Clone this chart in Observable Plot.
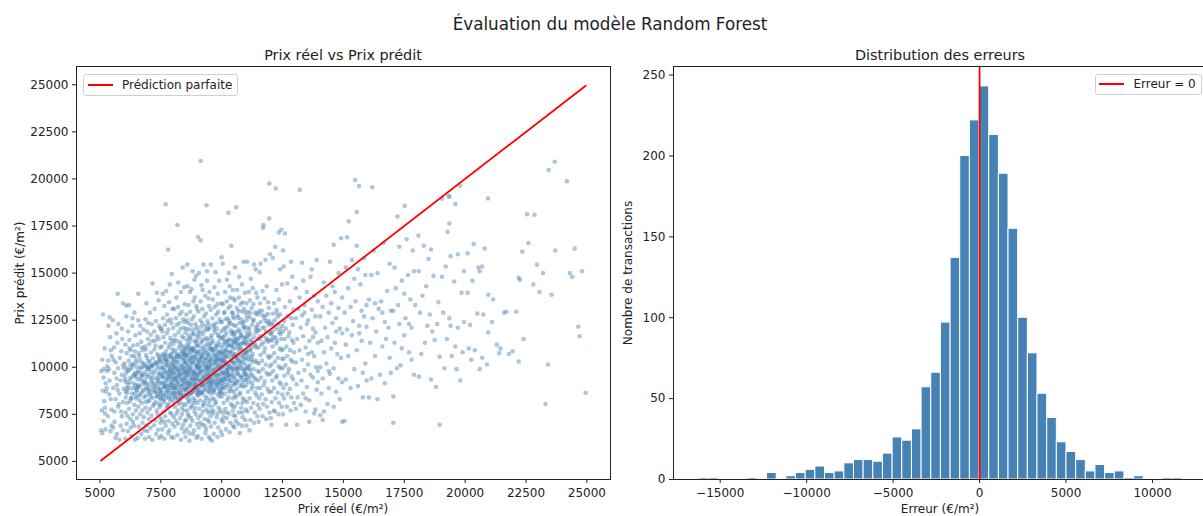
<!DOCTYPE html>
<html><head><meta charset="utf-8">
<script src="https://cdn.jsdelivr.net/npm/d3@7"></script>
<script src="https://cdn.jsdelivr.net/npm/@observablehq/plot@0.6"></script>
<style>
html,body{margin:0;padding:0;background:#fff;}
body{width:1203px;height:516px;overflow:hidden;position:relative;font-family:"DejaVu Sans",sans-serif;color:#222;}
.t{position:absolute;white-space:nowrap;line-height:1;}
.c{transform:translateX(-50%);}
.r{transform:translate(-50%,-50%) rotate(-90deg);}
.svgwrap{position:absolute;top:0;}
.leg{position:absolute;box-sizing:border-box;border:1px solid #cfcfcf;border-radius:3px;background:rgba(255,255,255,0.85);}
.leg .ln{position:absolute;height:2px;background:#ff0000;}
.leg .lt{position:absolute;font-size:12px;line-height:1;white-space:nowrap;}
</style></head><body>
<script>
const supTitle = "Évaluation du modèle Random Forest";
const titleScatter = "Prix réel vs Prix prédit";
const titleHist = "Distribution des erreurs";
const xLabelScatter = "Prix réel (€/m²)";
const yLabelScatter = "Prix prédit (€/m²)";
const xLabelHist = "Erreur (€/m²)";
const yLabelHist = "Nombre de transactions";
const legendScatter = "Prédiction parfaite";
const legendHist = "Erreur = 0";

const prixTicks = [5000, 7500, 10000, 12500, 15000, 17500, 20000, 22500, 25000];
const erreurTicks = [-15000, -10000, -5000, 0, 5000, 10000];
const countTicks = [0, 50, 100, 150, 200, 250];

// histogram of errors: bin edges (€/m²) and counts
const binEdges = [-16200,-15641,-15083,-14524,-13966,-13407,-12848,-12290,-11731,-11173,-10614,-10055,-9497,-8938,-8380,-7821,-7262,-6704,-6145,-5587,-5028,-4469,-3911,-3352,-2794,-2235,-1676,-1118,-559,0,558,1117,1675,2234,2792,3351,3910,4468,5027,5585,6144,6703,7261,7820,8378,8937,9496,10054,10613,11171,11730];
const binCounts = [1,1,0,0,0,1,0,4,0,2,4,6,8,4,5,10,12,12,11,16,26,24,31,57,66,97,137,200,222,243,213,189,155,100,78,53,38,23,17,12,5,9,4,5,1,2,0,0,1,1];

// [prix réel, prix prédit] (€/m²) — whole cloud
const transactions = [
[5050,6650],[5100,6500],[5150,7150],[5080,7700],[5200,7850],[5120,8750],[5250,8700],[5060,9800],[5300,9800],[5150,9450],[5400,9300],[5100,10400],[5350,10350],[5200,11000],[5450,10900],[5130,12800],[5400,12650],[5280,8900],[5450,8300],[5330,7400],[5480,6900],[5230,6700],[5370,9900],[5420,11600],[5180,8200],[5470,7750],[5300,10050],[5240,9150],[5390,8550],[5490,10600],[5160,9900],[5440,6600],[5350,12200],[5210,7550],
[5550,6800],[5600,7100],[5700,6450],[5850,6900],[5950,6650],[5600,7650],[5750,7900],[5900,7400],[5650,8300],[5800,8600],[5950,8150],[5550,8900],[5700,9050],[5850,9300],[5980,8850],[5600,9700],[5750,9950],[5900,9600],[5650,10250],[5820,10500],[5950,10100],[5580,11050],[5720,11300],[5880,10850],[5680,11800],[5920,11500],[5760,12300],[5730,13900],[6080,13280],[5950,13400],[5530,12500],[5780,8050],[5690,9400],[5870,7650],[5990,9950],[5640,6250],[5810,6150],[5560,10400],[5730,8800],[5900,12050],
[6050,6200],[6150,6600],[6300,6350],[6450,6150],[6100,7000],[6250,7250],[6400,6900],[6050,7600],[6200,7800],[6350,7500],[6480,7700],[6120,8100],[6280,8350],[6420,8000],[6060,8700],[6180,8850],[6330,8600],[6470,8900],[6080,9200],[6230,9400],[6380,9150],[6500,9500],[6150,9800],[6300,9950],[6450,9700],[6020,10200],[6190,10350],[6350,10100],[6480,10400],[6100,10750],[6260,10900],[6410,10600],[6050,11200],[6210,11450],[6370,11150],[6160,11900],[6330,12200],[6460,11700],[6090,12700],[6200,13300],[6420,12900],[6240,8200],[6390,9600],[6140,7400],[6300,10600],[6470,8350],[6020,9500],[6360,7100],[6220,11000],[6110,9950],[6440,10850],[6270,6800],[6340,12600],[6060,8400],[6580,13900],
[6550,6250],[6700,6450],[6850,6200],[6950,6600],[6600,6850],[6750,7050],[6900,6900],[6520,7300],[6650,7500],[6800,7350],[6950,7600],[6580,7900],[6720,8100],[6870,7850],[6990,8200],[6530,8450],[6680,8600],[6820,8400],[6960,8750],[6600,8950],[6740,9100],[6890,8900],[6540,9350],[6690,9500],[6840,9300],[6980,9600],[6570,9800],[6710,9950],[6860,9750],[6970,10050],[6520,10250],[6650,10400],[6800,10200],[6930,10500],[6600,10750],[6760,10900],[6900,10650],[6550,11200],[6700,11350],[6850,11100],[6980,11500],[6640,11800],[6790,12000],[6940,11900],[6580,12500],[6870,12550],[6910,13400],[6620,8250],[6770,8800],[6920,9150],[6680,9700],[6830,10050],[6990,10300],[6610,10600],[6740,7700],[6880,8150],[6560,9050],[6950,9950],[6720,11050],[6830,6650],[6660,12200],[6980,12350],[6510,8800],[6800,9600],[6890,10950],
[7020,6300],[7150,6150],[7310,6450],[7440,6250],[7080,6780],[7230,6920],[7390,6680],[7480,7050],[7010,7240],[7120,7420],[7270,7180],[7360,7530],[7460,7350],[7060,7790],[7190,7950],[7330,7700],[7420,8060],[7030,8230],[7170,8380],[7290,8150],[7400,8470],[7490,8300],[7090,8620],[7210,8790],[7350,8560],[7470,8880],[7040,9040],[7140,9190],[7280,8970],[7380,9300],[7450,9120],[7070,9480],[7200,9650],[7320,9420],[7430,9720],[7010,9880],[7130,10020],[7260,9810],[7370,10150],[7490,9950],[7050,10330],[7180,10480],[7300,10260],[7410,10590],[7100,10780],[7240,10940],[7360,10700],[7470,11050],[7020,11220],[7150,11380],[7280,11150],[7420,11500],[7090,11730],[7230,11900],[7350,11640],[7480,12050],[7130,12280],[7300,12450],[7440,12200],[7060,12900],[7250,13100],[7410,13550],[7160,14450],[7340,13950],[7220,8050],[7110,9300],[7460,10400],[7310,8700],[7190,10150],[7400,9560],[7080,8450],[7270,11420],[7450,7880],
[7520,6350],[7650,6200],[7800,6500],[7930,6300],[7560,6700],[7700,6900],[7850,6650],[7980,7000],[7540,7200],[7680,7400],[7820,7150],[7950,7500],[7600,7650],[7740,7850],[7880,7600],[7510,8000],[7640,8150],[7780,7950],[7910,8250],[7570,8400],[7710,8550],[7840,8350],[7970,8650],[7530,8800],[7660,8950],[7800,8750],[7930,9050],[7590,9150],[7720,9300],[7860,9100],[7990,9400],[7550,9550],[7690,9700],[7830,9500],[7960,9800],[7620,9950],[7760,10100],[7890,9900],[7510,10300],[7640,10450],[7780,10250],[7920,10550],[7580,10700],[7710,10850],[7850,10650],[7980,10950],[7540,11100],[7680,11300],[7820,11050],[7950,11400],[7610,11600],[7750,11800],[7890,11550],[7530,12050],[7670,12250],[7810,12000],[7940,12350],[7600,12600],[7760,12800],[7900,12550],[7650,13250],[7840,13450],[7980,13100],[7720,14050],[7870,14400],[7580,13900],[7700,18650],[7800,16250],[7950,14950],[7620,8250],[7760,9000],[7900,9650],[7540,10000],[7680,10650],[7820,8050],[7960,8900],[7600,9450],[7730,10350],[7870,11200],[7510,8550],[7650,7100],[7790,12450],[7930,10150],[7570,11900],[7850,9750],[7700,8700],[7980,9250],
[8020,6250],[8180,6400],[8330,6150],[8470,6550],[8060,6850],[8210,7000],[8360,6750],[8490,7150],[8040,7350],[8150,7550],[8300,7300],[8440,7700],[8080,7900],[8230,8050],[8380,7850],[8010,8200],[8120,8350],[8270,8150],[8410,8450],[8050,8600],[8190,8750],[8340,8550],[8480,8850],[8030,9000],[8160,9150],[8310,8950],[8450,9250],[8090,9400],[8240,9550],[8390,9350],[8010,9700],[8130,9850],[8280,9650],[8420,9950],[8070,10100],[8220,10250],[8370,10050],[8490,10350],[8040,10500],[8170,10650],[8320,10450],[8460,10750],[8100,10900],[8250,11050],[8400,10850],[8020,11250],[8150,11400],[8300,11200],[8440,11550],[8080,11700],[8230,11850],[8380,11650],[8010,12100],[8160,12250],[8310,12050],[8470,12400],[8120,12600],[8280,12800],[8420,12550],[8050,13100],[8210,13200],[8360,12950],[8480,13350],[8140,13700],[8330,14000],[8460,14250],[8220,14500],[8180,17550],[8400,15300],[8100,8900],[8260,9900],[8350,10700],[8430,9100],[8200,7700],[8060,11450],[8310,8300],[8470,9750],[8150,10300],[8290,11350],[8410,8050],[8110,9550],[8250,8650],[8390,10550],[8020,10800],[8440,12100],[8200,9250],[8350,9000],[8080,8450],[8480,11000],[8270,12350],[8130,7150],[8370,7500],[8230,10550],[8060,9950],[8420,6950],
[8520,6300],[8680,6100],[8830,6450],[8970,6250],[8560,6700],[8710,6900],[8860,6650],[8990,7000],[8540,7200],[8650,7400],[8800,7150],[8940,7500],[8580,7700],[8730,7850],[8880,7650],[8510,8000],[8620,8150],[8770,7950],[8910,8250],[8550,8400],[8690,8550],[8840,8350],[8980,8650],[8530,8800],[8660,8950],[8810,8750],[8950,9050],[8590,9150],[8740,9300],[8890,9100],[8510,9450],[8630,9600],[8780,9400],[8920,9700],[8570,9850],[8720,10000],[8870,9800],[8990,10100],[8540,10250],[8670,10400],[8820,10200],[8960,10500],[8600,10650],[8750,10800],[8900,10600],[8520,11000],[8650,11150],[8800,10950],[8940,11300],[8580,11450],[8730,11600],[8880,11400],[8510,11850],[8660,12000],[8810,11800],[8970,12150],[8620,12350],[8780,12550],[8920,12300],[8550,12800],[8710,12950],[8860,12700],[8990,13100],[8640,13300],[8840,13500],[8960,13250],[8700,14000],[8600,14300],[8880,14650],[8760,14150],[8950,14850],[8590,15450],[8810,15100],[8700,8200],[8850,9550],[8560,10550],[8690,11350],[8930,10850],[8610,9000],[8760,8650],[8900,7850],[8530,9700],[8670,10150],[8820,10500],[8950,9400],[8580,11200],[8740,12250],[8870,11050],[8620,7500],[8790,9150],[8980,11650],[8550,8600],[8700,9850],[8850,10300],[8640,8350],[8910,8900],[8500,10750],[8760,10950],[8990,9950],[8680,6500],[8830,12000],[8570,12500],[8900,13700],[8740,7300],[8620,11700],[8860,8100],
[9020,6350],[9180,6200],[9330,6500],[9470,6300],[9060,6800],[9210,6950],[9360,6700],[9490,7100],[9040,7300],[9150,7450],[9300,7250],[9440,7600],[9080,7800],[9230,7950],[9380,7750],[9010,8100],[9120,8250],[9270,8050],[9410,8350],[9050,8500],[9190,8650],[9340,8450],[9480,8750],[9030,8900],[9160,9050],[9310,8850],[9450,9150],[9090,9300],[9240,9450],[9390,9250],[9010,9600],[9130,9750],[9280,9550],[9420,9850],[9070,10000],[9220,10150],[9370,9950],[9490,10250],[9040,10400],[9170,10550],[9320,10350],[9460,10650],[9100,10800],[9250,10950],[9400,10750],[9020,11150],[9150,11300],[9300,11100],[9440,11450],[9080,11600],[9230,11750],[9380,11550],[9010,12000],[9160,12150],[9310,11950],[9470,12300],[9120,12500],[9280,12700],[9420,12450],[9050,12950],[9210,13100],[9360,12850],[9480,13250],[9140,13500],[9330,13800],[9460,13650],[9220,14100],[9070,15000],[9250,15450],[9030,16920],[9140,16740],[9380,18600],[9140,20950],[9400,14600],[9300,8200],[9180,9000],[9420,9600],[9060,10300],[9350,10500],[9200,11400],[9450,8000],[9110,8600],[9270,9150],[9390,10050],[9040,11800],[9480,11100],[9230,7650],[9330,12200],[9160,9900],[9430,7200],[9080,8800],[9260,10700],[9370,9400],[9020,10700],[9490,9350],[9200,12350],[9310,6900],[9120,7050],[9450,12000],[9170,14350],[9400,15100],
[9520,6200],[9680,6450],[9830,6300],[9970,6600],[9560,6850],[9710,7050],[9860,6800],[9990,7200],[9540,7400],[9650,7550],[9800,7350],[9940,7700],[9580,7900],[9730,8050],[9880,7850],[9510,8200],[9620,8350],[9770,8150],[9910,8450],[9550,8600],[9690,8750],[9840,8550],[9980,8850],[9530,9000],[9660,9150],[9810,8950],[9950,9250],[9590,9400],[9740,9550],[9890,9350],[9510,9700],[9630,9850],[9780,9650],[9920,9950],[9570,10100],[9720,10250],[9870,10050],[9990,10350],[9540,10500],[9670,10650],[9820,10450],[9960,10750],[9600,10900],[9750,11050],[9900,10850],[9520,11250],[9650,11400],[9800,11200],[9940,11550],[9580,11700],[9730,11850],[9880,11650],[9510,12100],[9660,12250],[9810,12050],[9970,12400],[9620,12600],[9780,12800],[9920,12550],[9550,13050],[9710,13200],[9860,12950],[9990,13400],[9640,13600],[9840,13900],[9700,14250],[9900,14600],[9560,15450],[9750,15050],[9600,6100],[9850,9550],[9700,8300],[9950,10150],[9600,9200],[9800,10600],[9530,10300],[9880,11350],[9660,7700],[9790,12350],[9930,8650],[9570,11000],[9720,9800],[9840,7550],[9980,11900],[9620,8900],[9760,10400],[9900,9100],[9550,7650],[9690,12000],[9830,13350],[9500,14000],[10000,15840],
[10020,6400],[10180,6700],[10330,6550],[10470,6900],[10060,7100],[10210,7300],[10360,7050],[10490,7450],[10040,7600],[10150,7800],[10300,7550],[10440,7950],[10080,8100],[10230,8250],[10380,8050],[10010,8450],[10120,8600],[10270,8400],[10410,8750],[10050,8900],[10190,9050],[10340,8850],[10480,9150],[10030,9300],[10160,9450],[10310,9250],[10450,9550],[10090,9700],[10240,9850],[10390,9650],[10010,10000],[10130,10150],[10280,9950],[10420,10250],[10070,10400],[10220,10550],[10370,10350],[10490,10650],[10040,10800],[10170,10950],[10320,10750],[10460,11050],[10100,11200],[10250,11350],[10400,11150],[10020,11550],[10150,11700],[10300,11500],[10440,11850],[10080,12000],[10230,12150],[10380,11950],[10010,12400],[10160,12550],[10310,12350],[10470,12700],[10120,12950],[10280,13150],[10420,12900],[10050,13350],[10210,13500],[10360,13250],[10480,13650],[10140,14000],[10330,14300],[10460,14100],[10220,14650],[10050,15500],[10300,15000],[10280,18200],[10400,16450],[10150,9350],[10350,10850],[10450,8350],[10200,11850],[10080,7350],[10400,9900],[10250,12600],[10120,10550],[10300,8700],[10480,11400],[10050,9750],[10190,7600],[10350,13700],[10430,10000],[10100,11450],[10260,9600],[10380,12300],[10000,8650],[10170,10300],[10470,7700],
[10520,6800],[10680,7000],[10830,6900],[10970,7200],[10560,7400],[10710,7600],[10860,7350],[10990,7750],[10540,7900],[10650,8100],[10800,7850],[10940,8250],[10580,8400],[10730,8550],[10880,8350],[10510,8700],[10620,8850],[10770,8650],[10910,8950],[10550,9100],[10690,9250],[10840,9050],[10980,9350],[10530,9500],[10660,9650],[10810,9450],[10950,9750],[10590,9900],[10740,10050],[10890,9850],[10510,10200],[10630,10350],[10780,10150],[10920,10450],[10570,10600],[10720,10750],[10870,10550],[10990,10850],[10540,11000],[10670,11150],[10820,10950],[10960,11250],[10600,11400],[10750,11550],[10900,11350],[10520,11750],[10650,11900],[10800,11700],[10940,12050],[10580,12200],[10730,12350],[10880,12150],[10510,12600],[10660,12750],[10810,12550],[10970,12900],[10620,13150],[10780,13350],[10920,13100],[10550,13550],[10710,13700],[10860,13450],[10640,14100],[10840,14400],[10960,13950],[10720,14800],[10600,18500],[10550,15300],[10900,15600],[10750,6500],[10650,9950],[10850,8100],[10950,10700],[10700,12000],[10580,7150],[10800,11200],[10900,12400],[10620,10500],[10760,9000],[10500,11300],[10990,9600],[10680,13000],[10850,7600],[10560,8500],[10740,10300],
[11020,6900],[11180,7200],[11330,7050],[11470,7400],[11060,7650],[11210,7850],[11360,7600],[11490,8000],[11040,8150],[11150,8350],[11300,8100],[11440,8500],[11080,8700],[11230,8850],[11380,8650],[11010,9050],[11120,9200],[11270,9000],[11410,9350],[11050,9500],[11190,9650],[11340,9450],[11480,9800],[11030,9950],[11160,10100],[11310,9900],[11450,10250],[11090,10400],[11240,10550],[11390,10350],[11010,10750],[11130,10900],[11280,10700],[11420,11050],[11070,11200],[11220,11350],[11370,11150],[11490,11500],[11040,11650],[11170,11800],[11320,11600],[11460,11950],[11100,12100],[11250,12250],[11400,12050],[11020,12500],[11150,12650],[11300,12450],[11440,12800],[11080,12950],[11230,13150],[11380,12900],[11010,13400],[11160,13550],[11310,13350],[11470,13700],[11120,14000],[11280,14200],[11420,13950],[11200,14700],[11400,15200],[11050,15600],[11330,15450],[11150,6650],[11450,8900],
[11520,7100],[11680,7400],[11830,7250],[11970,7600],[11560,7800],[11710,8050],[11860,7900],[11540,8350],[11650,8550],[11800,8300],[11940,8700],[11580,8900],[11730,9050],[11880,8850],[11510,9300],[11620,9450],[11770,9250],[11910,9600],[11550,9750],[11690,9900],[11840,9700],[11980,10050],[11530,10200],[11660,10350],[11810,10150],[11950,10500],[11590,10650],[11740,10800],[11890,10600],[11510,11050],[11630,11200],[11780,11000],[11920,11350],[11570,11500],[11720,11650],[11870,11450],[11990,11800],[11540,11950],[11670,12100],[11820,11900],[11960,12250],[11600,12400],[11750,12600],[11900,12350],[11520,12850],[11650,13000],[11800,12750],[11940,13150],[11580,13400],[11760,13650],[11910,13450],[11680,14050],[11850,14300],[11700,17400],[11720,17550],[11950,17900],[11600,15500],[11800,15700],[11990,16000],[11560,15050],
[12020,7300],[12180,7650],[12330,7500],[12470,7900],[12060,8150],[12210,8350],[12360,8100],[12490,8550],[12040,8700],[12150,8900],[12300,8650],[12440,9100],[12080,9300],[12230,9450],[12380,9200],[12010,9650],[12120,9800],[12270,9550],[12410,9950],[12050,10150],[12190,10300],[12340,10050],[12480,10450],[12030,10600],[12160,10750],[12310,10500],[12450,10900],[12090,11100],[12240,11250],[12390,11000],[12010,11450],[12130,11600],[12280,11400],[12420,11750],[12070,11900],[12220,12050],[12370,11850],[12490,12200],[12040,12350],[12170,12500],[12320,12300],[12100,12850],[12260,13050],[12400,12800],[12150,13400],[12350,13600],[12250,14100],[11960,19760],[12220,19490],[12200,16400],[12350,17150],[12450,17300],[12100,15800],[12400,15200],[12480,14400],[12050,6950],[12150,7700],
[12520,7500],[12680,7900],[12830,7700],[12970,8100],[12560,8350],[12710,8600],[12860,8400],[12540,8900],[12650,9100],[12800,8850],[12940,9350],[12580,9550],[12730,9700],[12880,9500],[12510,9950],[12620,10100],[12770,9900],[12910,10300],[12550,10450],[12690,10600],[12840,10400],[12980,10800],[12530,10950],[12660,11100],[12810,10900],[12950,11300],[12590,11500],[12740,11650],[12890,11450],[12510,11900],[12630,12050],[12780,11850],[12920,12250],[12570,12450],[12720,12700],[12870,12600],[12600,13200],[12800,13500],[12950,13050],[12700,14450],[12650,6950],[12520,16200],[12550,15350],[12850,15600],[12900,14800],[12600,17100],
[13050,7800],[13250,8000],[13450,7650],[13800,7550],[13120,8400],[13350,8600],[13600,8250],[13900,8800],[13080,9100],[13280,9300],[13500,8950],[13750,9450],[13950,9200],[13150,9700],[13400,9850],[13650,9600],[13880,10000],[13050,10250],[13300,10400],[13550,10150],[13800,10600],[13200,10900],[13450,11050],[13700,10800],[13950,11300],[13100,11500],[13350,11650],[13600,11400],[13850,11850],[13250,12100],[13500,12300],[13750,12050],[13050,12600],[13300,12750],[13550,12500],[13850,12700],[13150,13100],[13400,13300],[13700,13050],[13950,13500],[13200,13700],[13500,14000],[13800,13800],[13350,14600],[13650,14800],[13210,19420],[13300,15550],[13700,15200],[13900,15700],[13050,14200],[13450,8350],[13600,7100],[13850,7750],[13100,6950],[13950,9800],[13750,11600],[13400,12900],[13550,10700],
[14050,7450],[14200,7650],[14350,8050],[14600,7900],[14850,8300],[14100,8600],[14400,8900],[14700,8700],[14950,9200],[14150,9400],[14450,9650],[14800,9400],[14050,10000],[14300,10200],[14600,9950],[14900,10500],[14200,10800],[14500,11000],[14750,10700],[14100,11400],[14350,11600],[14650,11300],[14950,11800],[14250,12100],[14550,12350],[14850,12050],[14050,12700],[14400,12900],[14700,12600],[14150,13200],[14500,13400],[14800,13150],[14300,13800],[14650,14000],[14950,13700],[14200,14500],[14550,14300],[14800,15000],[14600,16500],[14900,16850],[14450,15600],[14150,7200],[14400,9800],[14700,11900],[14950,7100],
[15050,7150],[15100,9350],[15200,10600],[15300,8900],[15450,9900],[15600,9000],[15800,9700],[15950,9300],[15100,11200],[15350,11700],[15550,10900],[15750,11400],[15900,10200],[15150,12000],[15400,12450],[15650,12200],[15850,12700],[15050,12900],[15300,13200],[15500,13500],[15750,13000],[15950,13300],[15200,14200],[15450,14700],[15700,14400],[15900,14900],[15100,15300],[15350,15700],[15600,15200],[15850,15800],[15480,19940],[15640,19620],[15550,18250],[15220,17750],[15550,16450],[15150,16900],[15800,8400],[15650,11800],[15950,12150],
[16050,8400],[16190,19560],[16150,9400],[16300,10600],[16500,9600],[16700,9150],[16900,10500],[16100,11300],[16350,11900],[16600,11100],[16850,12100],[16200,12600],[16450,13100],[16700,12400],[16950,13000],[16050,13600],[16300,13400],[16550,13500],[16800,14050],[16150,14900],[16400,15000],[16650,16600],[16900,15500],[16250,16200],[16750,11500],[16400,8300],[16950,9700],[16600,12900],
[17050,8450],[17200,9950],[17350,10100],[17500,11700],[17700,10800],[17900,9600],[17100,11300],[17300,12300],[17550,12600],[17800,12100],[17050,13000],[17250,13300],[17500,13900],[17750,13600],[17150,14200],[17400,14600],[17650,14900],[17900,15100],[17300,16400],[17600,16800],[17850,16200],[17220,18000],[17520,18570],[17100,15300],[17700,12300],[17950,13300],[17400,11000],[17800,10400],[17050,7050],
[18080,16990],[18100,15100],[18300,16450],[18500,15750],[18600,16250],[18400,14300],[18700,14850],[18900,13450],[18150,12900],[18450,12200],[18750,11450],[18950,10550],[18200,10700],[18600,9350],[18800,8950],[18350,11300],[18550,12800],[18850,12300],[18100,9500],[18650,11900],[18950,6950],[18250,13800],
[19050,18950],[19320,19100],[19360,19050],[19350,17630],[19280,17190],[19790,19640],[19600,18660],[19700,16000],[19400,15900],[19200,15350],[19050,14800],[19550,14550],[19850,13950],[19100,12900],[19400,12200],[19700,12100],[19950,12400],[19250,11500],[19600,11100],[19900,10800],[19150,9950],[19450,10600],[19800,9300],[19650,9900],[19350,12600],[19950,15100],
[20100,16050],[20350,16550],[20550,15300],[20700,15350],[20940,18960],[20800,16300],[20100,13950],[20300,14600],[20600,15100],[20950,13850],[20200,12250],[20500,12850],[20750,12800],[20150,11000],[20400,10900],[20700,10500],[20900,10150],[20250,10400],[20600,9900],[20950,11850],
[21100,12400],[21300,11200],[21450,11000],[21600,12900],[21800,10700],[21400,10750],[21150,13600],[21700,12950],[21950,10850],
[22200,14750],[22250,14650],[22350,16150],[22600,16600],[22100,12950],[22400,11500],[22200,10300],[22800,14400],[22850,18100],[22950,15450],[22540,18130],
[23050,14000],[23300,8050],[23400,10150],[23550,13850],[23430,20470],[23680,20910],[23200,15000],[23700,16200],
[24180,19880],[24300,15000],[24500,16300],[24650,12150],[24700,11650],[24950,8650],[24800,15100],[24400,14800]
];

// [prix réel, prix prédit] (€/m²) — the dense core of the cloud
const transactionsCore = [
[7330,8420],[7415,9370],[7512,8660],[7588,10210],[7643,9025],[7707,8385],[7768,9810],[7821,10540],[7894,8910],[7947,9560],[8013,10080],[8071,8645],[8126,9305],[8184,10715],[8238,9840],[8291,8495],[7358,9965],[7444,10470],[7539,9190],[7611,8530],[7672,10650],[7736,9460],[7797,8770],[7853,10020],[7918,9225],[7985,8440],[8042,9690],[8099,10390],[8152,9010],[8207,8345],[8266,9585],[7380,8895],[7471,9640],[7563,10580],[7629,9860],[7690,9145],[7752,10365],[7808,9355],[7875,8620],[7932,10695],[7996,9095],[8056,10270],[8113,8910],[8168,9460],[8221,10050],[8279,8790],[7402,10290],[7496,8355],[7575,9505],[7658,8935],[7721,10105],[7783,9640],[7839,8455],[7906,9900],[7968,10445],[8028,8810],[8085,9975],[8139,10560],[8196,9735],[8252,9120],[7345,9150],[7455,8725],[7596,9705],[7681,10430],[7744,8950],[7866,9485],[7955,10255],[8065,9385],[8175,8580],[8245,10600],
[8312,9420],[8367,10135],[8421,8780],[8476,9905],[8533,10640],[8588,9165],[8642,8575],[8697,10350],[8751,9630],[8806,8895],[8863,10880],[8918,9370],[8972,10115],[9027,8690],[9083,9855],[9138,10545],[9193,9050],[9247,10265],[8335,8640],[8392,9685],[8449,10495],[8504,9295],[8559,8905],[8615,10015],[8670,10760],[8725,9445],[8779,8640],[8834,9760],[8889,10395],[8944,9085],[8999,8525],[9055,10230],[9110,9585],[9165,11040],[9221,9775],[9276,8780],[8355,10880],[8410,9095],[8465,8510],[8520,10210],[8576,9735],[8631,9235],[8686,11005],[8740,9930],[8795,10580],[8850,8755],[8905,9560],[8960,10745],[9015,9990],[9070,9240],[9125,8700],[9180,10650],[9235,9415],[9290,10020],[8380,9845],[8437,10310],[8495,8870],[8551,9470],[8605,10925],[8661,9805],[8715,9125],[8770,10235],[8825,9690],[8880,8960],[8935,10025],[8990,9630],[9045,10865],[9100,10065],[9155,9305],[9210,8615],[9265,10805],[8425,9560],[8545,10060],[8658,8760],[8780,10975],[8900,9245],[9010,9425],[9130,10345],[9245,9070],[8350,9330],[8480,10675],[8600,9625],[8720,10500],[8845,9350],[8965,8845],[9090,9720],[9195,10470],[8400,11120],[8700,9040],[9000,11150],
[9315,9815],[9372,10465],[9428,8930],[9483,9645],[9539,10980],[9594,9330],[9650,10170],[9706,8810],[9761,9995],[9817,10665],[9872,9190],[9928,10345],[9983,9610],[10039,8985],[10095,10820],[10150,9505],[10206,10190],[10262,9040],[9338,9045],[9395,10905],[9450,9885],[9506,9155],[9561,10435],[9617,9765],[9672,8640],[9728,10605],[9783,9410],[9839,10150],[9894,8850],[9950,9800],[10006,11030],[10061,10255],[10117,9235],[10173,10575],[10228,9820],[10284,9385],[9360,10185],[9417,9475],[9472,10685],[9528,9960],[9583,8765],[9639,10835],[9694,9620],[9750,9045],[9805,11110],[9861,9915],[9916,10490],[9972,9350],[10027,10040],[10083,10690],[10139,8890],[10194,9690],[10250,11150],[9383,11235],[9440,8705],[9495,10075],[9550,9515],[9606,11290],[9661,10405],[9717,9285],[9772,10865],[9828,9085],[9883,9620],[9939,11180],[9994,10605],[10050,9415],[10105,10335],[10161,9935],[10217,10770],[10272,9595],[9350,9620],[9475,10330],[9590,9105],[9705,9905],[9820,10375],[9935,8695],[10060,9665],[10180,10905],[10290,10085],[9410,10020],[9530,8920],[9655,10965],[9790,9210],[9900,10780],[10020,9130],[10130,11325],[10245,9705],[9460,9290],[9745,10230],[10000,10410],
[10318,10060],[10373,9285],[10429,10790],[10484,9780],[10540,11305],[10595,9155],[10651,10455],[10706,9875],[10762,11020],[10817,9460],[10873,10280],[10928,11560],[10984,9650],[11039,10820],[11095,9925],[11150,11180],[11206,10390],[11261,9560],[10340,9495],[10396,11170],[10451,10330],[10507,9385],[10562,10705],[10618,9990],[10673,11520],[10729,9565],[10784,10610],[10840,9950],[10895,11305],[10951,10165],[11006,9310],[11062,11470],[11117,10590],[11173,9865],[11228,11045],[11284,10285],[10360,10555],[10418,8990],[10474,9935],[10529,11605],[10585,10200],[10640,9700],[10696,10960],[10751,10345],[10807,11690],[10862,9235],[10918,10725],[10973,9905],[11028,11830],[11084,10050],[11140,9435],[11195,10895],[11250,9185],[10385,11435],[10500,10560],[10620,9300],[10760,11260],[10890,9610],[11010,10480],[11130,11700],
[6040,9315],[6125,8640],[6210,9870],[6295,8365],[6380,10180],[6465,9045],[6550,9705],[6635,8520],[6720,10250],[6805,9230],[6890,8485],[6975,9940],[7060,8805],[7145,10075],[7230,9115],[6085,9710],[6170,9060],[6255,10120],[6340,8890],[6425,9580],[6510,10015],[6595,8980],[6680,9330],[6765,8700],[6850,10090],[6935,9475],[7020,8590],[7105,9755],[7190,8965],[7275,10205],[6105,8905],[6320,9465],[6530,8755],[6745,9565],[6960,8880],[7170,9430],[6220,9215],[6440,8600],[6660,10000],[6880,9125],[7090,10110],[7250,8700],
[10050,11620],[10140,12080],[10230,11390],[10320,12450],[10410,11760],[10500,12230],[10590,11480],[10680,12620],[10770,11870],[10860,12340],[10950,11580],[11040,12710],[11130,12020],[11220,11440],[11310,12530],[11400,11830],[11490,12280],[11580,11640],[11670,12760],[11760,12110],[11850,11520],[11940,12470],[12030,11760],[12120,12260],[12210,11580],[12300,12680],[12390,12040],[10100,12870],[10280,11150],[10460,12890],[10640,11240],[10820,12960],[11000,11330],[11180,12890],[11360,11250],[11540,12980],[11720,11310],[11900,12830],[12080,11420],[12260,12880],[9850,11720],[9700,12180],[9560,11560],[9420,12050],[9280,11490],[9140,11880],[8990,11420],[8850,11760],[8700,11530],[8550,12040],[10960,12150],[11450,12150],[10520,11850],[11800,12450],[12450,11500]
];

// derived tables for the library
const allTransactions = transactions.concat(transactionsCore);
const hist = binCounts.map((c, i) => ({x0: binEdges[i], x1: binEdges[i + 1], count: c}));
const reelExtent = d3.extent(allTransactions, d => d[0]);
const diag = reelExtent.map(v => ({reel: v, predit: v}));

const prixDomain = [4040, 25970];
const errDomain = [-17700, 12950];
const countDomain = [0, 255.3];

const baseStyle = {fontFamily: '"DejaVu Sans", sans-serif', fontSize: "12px", color: "#222", background: "none", overflow: "visible"};
const numFmt = d => (d < 0 ? "\u2212" + Math.abs(d) : String(d));

const scatter = Plot.plot({
  width: 640, height: 516,
  marginLeft: 76, marginRight: 30, marginTop: 66, marginBottom: 37,
  style: baseStyle,
  x: {domain: prixDomain, ticks: prixTicks, tickFormat: numFmt, tickSize: 4, tickPadding: 5, label: null},
  y: {domain: prixDomain, ticks: prixTicks, tickFormat: numFmt, tickSize: 4, tickPadding: 4, label: null},
  marks: [
    Plot.dot(allTransactions, {x: d => d[0], y: d => d[1], r: 2.3, fill: "#4682b4", fillOpacity: 0.45, stroke: "none"}),
    Plot.line(diag, {x: "reel", y: "predit", stroke: "#ff0000", strokeWidth: 1.8}),
    Plot.frame({stroke: "#222", strokeWidth: 1})
  ]
});

const histo = Plot.plot({
  width: 563, height: 516,
  marginLeft: 33, marginRight: 0, marginTop: 66, marginBottom: 37,
  style: baseStyle,
  x: {domain: errDomain, ticks: erreurTicks, tickFormat: numFmt, tickSize: 4, tickPadding: 5, label: null},
  y: {domain: countDomain, ticks: countTicks, tickFormat: numFmt, tickSize: 4, tickPadding: 4, label: null},
  marks: [
    Plot.rect(hist, {x1: "x0", x2: "x1", y1: 0, y2: "count", fill: "#4682b4", stroke: "white", strokeWidth: 1}),
    Plot.ruleX([0], {stroke: "#ff0000", strokeWidth: 1.8}),
    Plot.ruleX([errDomain[0]], {stroke: "#222", strokeWidth: 1}),
    Plot.ruleY([countDomain[0]], {stroke: "#222", strokeWidth: 1}),
    Plot.ruleY([countDomain[1]], {stroke: "#222", strokeWidth: 1})
  ]
});

function addSvg(node, left) {
  const w = document.createElement("div");
  w.className = "svgwrap";
  w.style.left = left + "px";
  w.appendChild(node);
  document.body.appendChild(w);
}
addSvg(scatter, 0);
addSvg(histo, 640);

function addText(txt, cls, left, top, size) {
  const d = document.createElement("div");
  d.className = "t " + cls;
  d.textContent = txt;
  d.style.left = left + "px";
  d.style.top = top + "px";
  d.style.fontSize = size + "px";
  document.body.appendChild(d);
}
addText(supTitle, "c", 610, 15.8, 16.8);
addText(titleScatter, "c", 343, 47.8, 14.4);
addText(titleHist, "c", 940, 47.8, 14.4);
addText(xLabelScatter, "c", 343, 502.8, 12);
addText(xLabelHist, "c", 940, 502.8, 12);
addText(yLabelScatter, "r", 19.5, 272.5, 12);
addText(yLabelHist, "r", 628, 272.5, 12);

function addLegend(label, left, top, width, height, lineLeft, textLeft) {
  const b = document.createElement("div");
  b.className = "leg";
  Object.assign(b.style, {left: left + "px", top: top + "px", width: width + "px", height: height + "px"});
  const ln = document.createElement("div");
  ln.className = "ln";
  Object.assign(ln.style, {left: lineLeft + "px", width: "25px", top: (height / 2 - 2) + "px"});
  const t = document.createElement("div");
  t.className = "lt";
  t.textContent = label;
  Object.assign(t.style, {left: textLeft + "px", top: (height / 2 - 7) + "px"});
  b.appendChild(ln); b.appendChild(t);
  document.body.appendChild(b);
}
addLegend(legendScatter, 83, 74, 155, 22, 3.5, 38);
addLegend(legendHist, 1095, 73.5, 107, 21.5, 3, 37.5);
</script>
</body></html>
